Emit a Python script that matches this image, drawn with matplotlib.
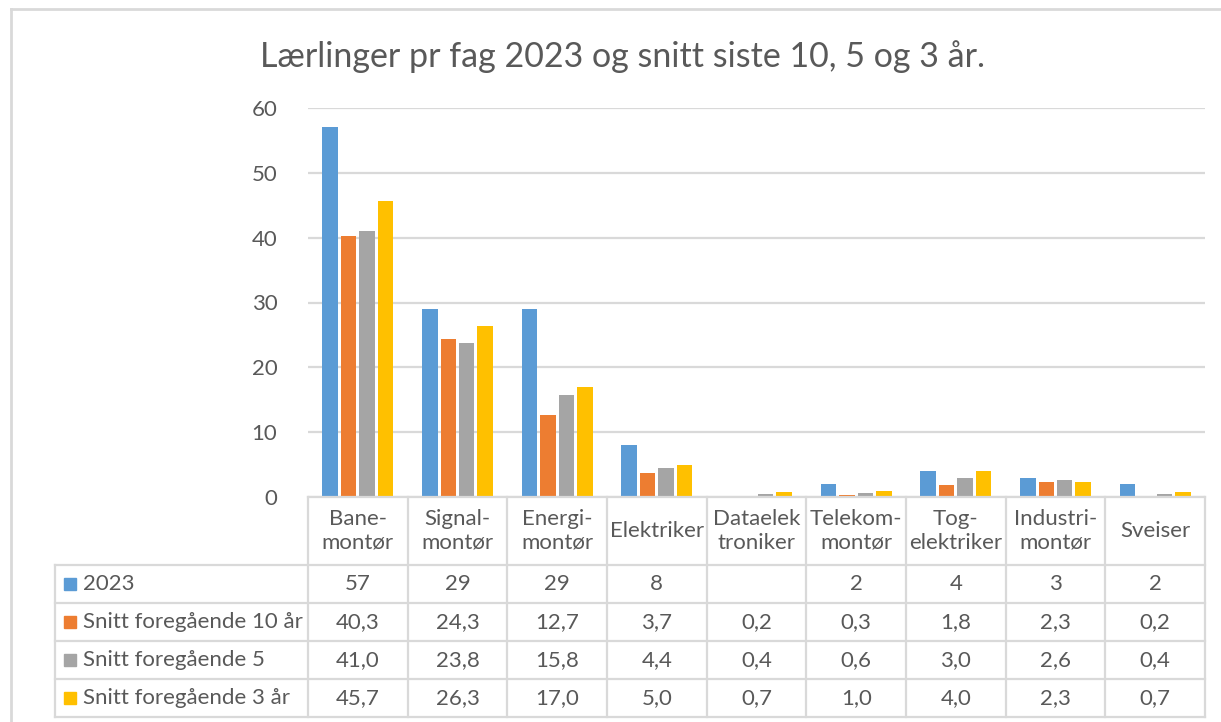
import numpy as np
import matplotlib
matplotlib.use("Agg")
import matplotlib.pyplot as plt
from matplotlib.lines import Line2D
from matplotlib.patches import Rectangle

plt.rcParams['font.family'] = ['Lato', 'DejaVu Sans']

# ---- data ----
title = "Lærlinger pr fag 2023 og snitt siste 10, 5 og 3 år."
categories = ["Bane-\nmontør", "Signal-\nmontør", "Energi-\nmontør", "Elektriker",
              "Dataelek\ntroniker", "Telekom-\nmontør", "Tog-\nelektriker",
              "Industri-\nmontør", "Sveiser"]
series_names = ["2023", "Snitt foregående 10 år", "Snitt foregående 5",
                "Snitt foregående 3 år"]
y2023 = [57, 29, 29, 8, np.nan, 2, 4, 3, 2]
snitt10 = [40.3, 24.3, 12.7, 3.7, 0.2, 0.3, 1.8, 2.3, 0.2]
snitt5 = [41.0, 23.8, 15.8, 4.4, 0.4, 0.6, 3.0, 2.6, 0.4]
snitt3 = [45.7, 26.3, 17.0, 5.0, 0.7, 1.0, 4.0, 2.3, 0.7]
yticks = [0, 10, 20, 30, 40, 50, 60]

colors = ["#5B9BD5", "#ED7D31", "#A5A5A5", "#FFC000"]
text_col = "#595959"
grid_col = "#D9D9D9"
fs = 16

W, H = 1221, 722
fig = plt.figure(figsize=(W / 100, H / 100), dpi=100)


def fx(px):
    return px / W


def fy(py):
    return 1 - py / H


# plot area
x0, x1 = 308, 1205
ytop, ybot = 108, 497
ax = fig.add_axes([fx(x0), fy(ybot), fx(x1) - fx(x0), fy(ytop) - fy(ybot)])

all_series = [y2023, snitt10, snitt5, snitt3]
n = len(categories)
x = np.arange(n)
bw = 0.155
step = 0.185
for i, (vals, c) in enumerate(zip(all_series, colors)):
    offs = (i - 1.5) * step
    ax.bar(x + offs, vals, width=bw, color=c, zorder=3)

ax.set_xlim(-0.5, n - 0.5)
ax.set_ylim(0, 60)
ax.set_yticks(yticks)
ax.set_yticklabels([str(t) for t in yticks], fontsize=fs, color=text_col)
ax.tick_params(axis='y', length=0, pad=22)
ax.set_xticks([])
ax.yaxis.grid(True, color=grid_col, linewidth=1.6)
ax.set_axisbelow(True)
for s in ax.spines.values():
    s.set_visible(False)

# title
fig.text(fx(622), fy(57), title, fontsize=24.5, color=text_col,
         ha='center', va='center')

# ---- data table ----
row_y = [497, 565, 603, 641, 679, 717]
label_x0 = 55
col_w = (x1 - x0) / n
col_edges = [x0 + k * col_w for k in range(n + 1)]


def hline(xa, xb, yy):
    fig.add_artist(Line2D([fx(xa), fx(xb)], [fy(yy), fy(yy)],
                          color=grid_col, linewidth=1.6))


def vline(xx, ya, yb):
    fig.add_artist(Line2D([fx(xx), fx(xx)], [fy(ya), fy(yb)],
                          color=grid_col, linewidth=1.6))


hline(x0, x1, row_y[0])
for yy in row_y[1:]:
    hline(label_x0, x1, yy)
for xx in col_edges:
    vline(xx, row_y[0], row_y[-1])
vline(label_x0, row_y[1], row_y[-1])

# header labels
for k, cat in enumerate(categories):
    cx = (col_edges[k] + col_edges[k + 1]) / 2
    cy = (row_y[0] + row_y[1]) / 2
    fig.text(fx(cx), fy(cy), cat, fontsize=fs, color=text_col,
             ha='center', va='center', linespacing=1.3)

# series rows
for r, (name, vals, c) in enumerate(zip(series_names, all_series, colors)):
    cy = (row_y[r + 1] + row_y[r + 2]) / 2
    fig.add_artist(Rectangle((fx(64), fy(cy + 6)), fx(12), fy(cy - 6) - fy(cy + 6),
                             color=c, transform=fig.transFigure))
    fig.text(fx(83), fy(cy), name, fontsize=fs, color=text_col,
             ha='left', va='center')
    for k, v in enumerate(vals):
        if np.isnan(v):
            continue
        if r == 0:
            s = f"{v:.0f}"
        else:
            s = f"{v:.1f}".replace(".", ",")
        cx = (col_edges[k] + col_edges[k + 1]) / 2
        fig.text(fx(cx), fy(cy), s, fontsize=fs, color=text_col,
                 ha='center', va='center')

# outer chart border
fig.add_artist(Line2D([fx(11), fx(11)], [fy(9), fy(H)], color=grid_col, linewidth=2))
fig.add_artist(Line2D([fx(11), fx(W)], [fy(9), fy(9)], color=grid_col, linewidth=2))

fig.savefig("out.png", dpi=100)
